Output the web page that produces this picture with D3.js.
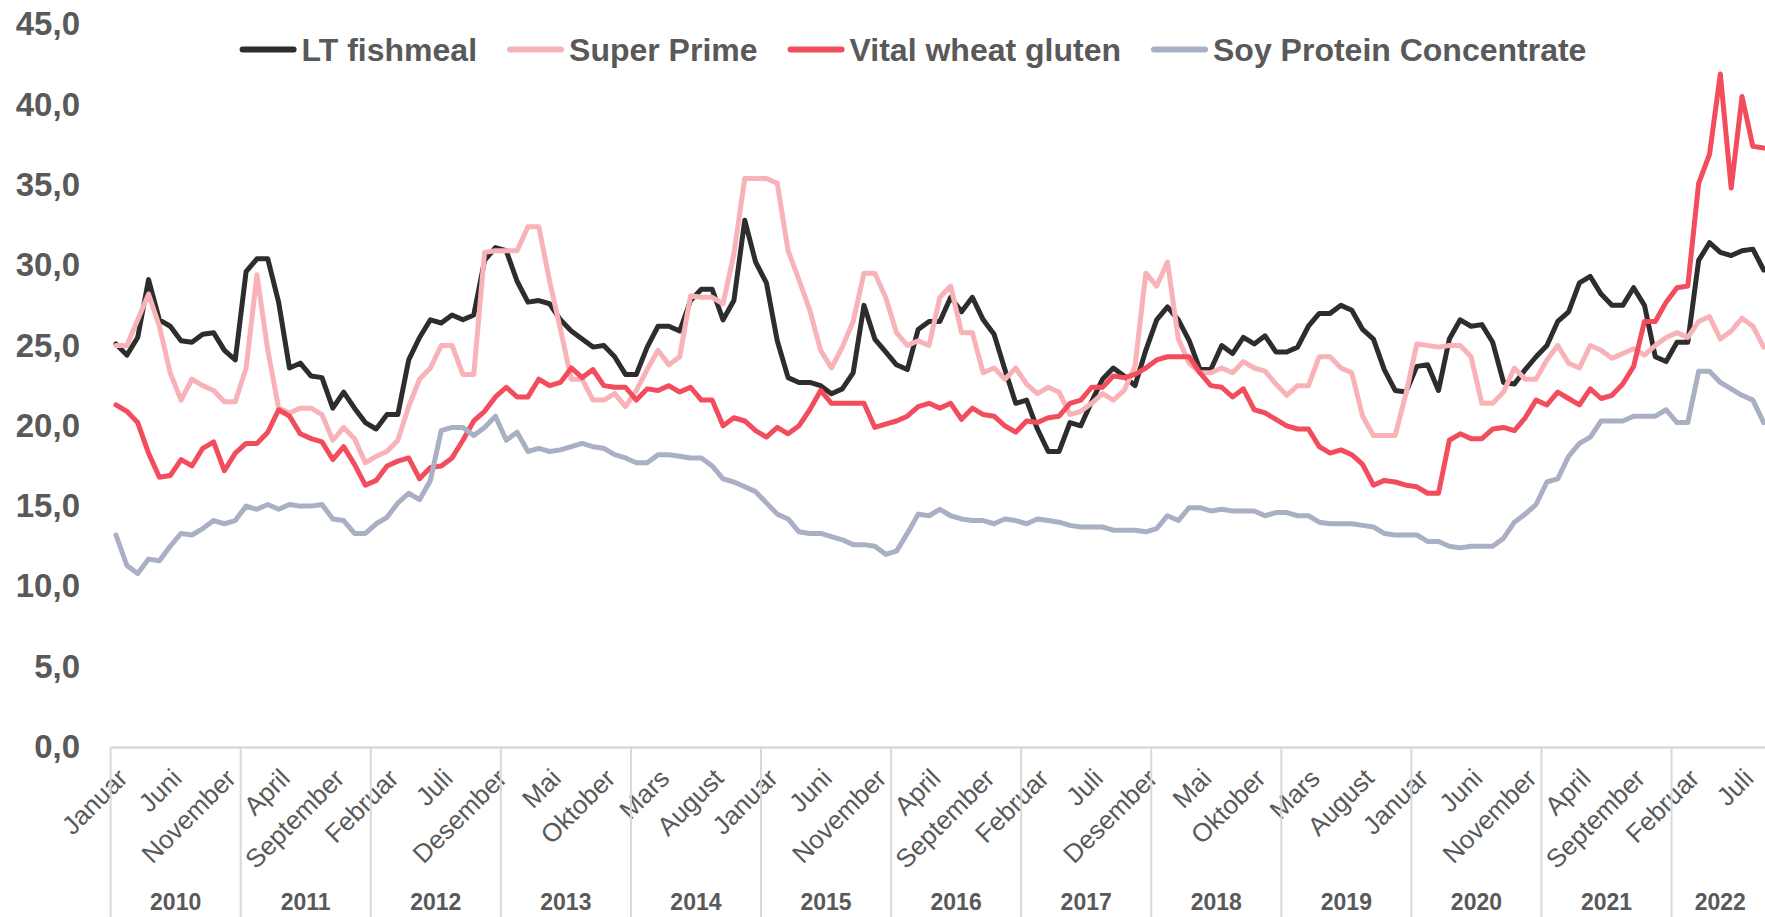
<!DOCTYPE html>
<meta charset="utf-8">
<title>Protein ingredient prices</title>
<script src="https://d3js.org/d3.v7.min.js"></script>
<style>
  body { margin: 0; background: #fff; }
  svg text { font-family: "Liberation Sans", Arial, sans-serif; fill: #595959; }
</style>
<body>
<script>

var w = 1765
var h = 917

// categories
var years = ["2010", "2011", "2012", "2013", "2014", "2015", "2016", "2017", "2018", "2019", "2020", "2021", "2022"];
var monthNames = ["Januar", "Februar", "Mars", "April", "Mai", "Juni", "Juli", "August", "September", "Oktober", "November", "Desember"];

// y ticks
var yTicks = [0, 5, 10, 15, 20, 25, 30, 35, 40, 45];

// series values, one per month from Januar 2010 to September 2022
var fishmeal = [
  25.1, 24.4, 25.5, 29.1, 26.6, 26.2, 25.3, 25.2, 25.7, 25.8,
  24.7, 24.1, 29.6, 30.4, 30.4, 27.7, 23.6, 23.9, 23.1, 23.0,
  21.1, 22.1, 21.1, 20.2, 19.8, 20.7, 20.7, 24.1, 25.5, 26.6,
  26.4, 26.9, 26.6, 26.9, 30.3, 31.1, 30.9, 29.0, 27.7, 27.8,
  27.6, 26.6, 25.9, 25.4, 24.9, 25.0, 24.3, 23.2, 23.2, 24.9,
  26.2, 26.2, 25.9, 27.8, 28.5, 28.5, 26.6, 27.8, 32.8, 30.2,
  28.9, 25.3, 23.0, 22.7, 22.7, 22.5, 22.0, 22.3, 23.3, 27.5,
  25.4, 24.6, 23.8, 23.5, 26.0, 26.5, 26.5, 28.0, 27.1, 28.0,
  26.6, 25.7, 23.5, 21.4, 21.6, 19.8, 18.4, 18.4, 20.2, 20.0,
  21.5, 22.9, 23.6, 23.1, 22.5, 24.7, 26.6, 27.4, 26.6, 25.3,
  23.5, 23.5, 25.0, 24.5, 25.5, 25.1, 25.6, 24.6, 24.6, 24.9,
  26.2, 27.0, 27.0, 27.5, 27.2, 26.0, 25.4, 23.5, 22.2, 22.1,
  23.7, 23.8, 22.2, 25.4, 26.6, 26.2, 26.3, 25.2, 22.7, 22.6,
  23.5, 24.3, 25.0, 26.5, 27.1, 28.9, 29.3, 28.2, 27.5, 27.5,
  28.6, 27.5, 24.3, 24.0, 25.2, 25.2, 30.3, 31.4, 30.8, 30.6,
  30.9, 31.0, 29.7
];
var superPrime = [
  25.0, 25.0, 26.6, 28.2, 26.2, 23.3, 21.6, 22.9, 22.5, 22.2,
  21.5, 21.5, 23.6, 29.4, 24.7, 21.1, 20.8, 21.1, 21.1, 20.7,
  19.1, 19.9, 19.2, 17.7, 18.1, 18.4, 19.1, 21.2, 22.9, 23.6,
  25.0, 25.0, 23.2, 23.2, 30.8, 30.9, 30.9, 30.9, 32.4, 32.4,
  29.0, 26.0, 22.9, 22.9, 21.6, 21.6, 22.0, 21.2, 22.2, 23.5,
  24.7, 23.8, 24.3, 28.1, 28.0, 28.0, 27.6, 30.7, 35.4, 35.4,
  35.4, 35.1, 30.9, 29.1, 27.2, 24.7, 23.6, 24.9, 26.5, 29.5,
  29.5, 28.0, 25.8, 25.0, 25.3, 25.0, 28.0, 28.7, 25.8, 25.8,
  23.3, 23.6, 22.9, 23.6, 22.6, 22.0, 22.4, 22.1, 20.7, 20.9,
  21.4, 22.0, 21.6, 22.2, 23.7, 29.5, 28.7, 30.2, 25.4, 23.9,
  23.3, 23.3, 23.6, 23.3, 24.0, 23.6, 23.4, 22.6, 21.9, 22.5,
  22.5, 24.3, 24.3, 23.6, 23.3, 20.6, 19.4, 19.4, 19.4, 22.0,
  25.1, 25.0, 24.9, 25.0, 25.0, 24.3, 21.4, 21.4, 22.1, 23.6,
  22.9, 22.9, 24.1, 25.0, 23.9, 23.6, 25.0, 24.7, 24.2, 24.5,
  24.8, 24.4, 25.0, 25.5, 25.8, 25.5, 26.5, 26.8, 25.4, 25.9,
  26.7, 26.2, 24.9
];
var wheatGluten = [
  21.3, 20.9, 20.2, 18.3, 16.8, 16.9, 17.9, 17.5, 18.6, 19.0,
  17.2, 18.3, 18.9, 18.9, 19.6, 21.0, 20.6, 19.5, 19.2, 19.0,
  17.9, 18.7, 17.6, 16.3, 16.6, 17.5, 17.8, 18.0, 16.7, 17.4,
  17.5, 18.0, 19.1, 20.3, 20.9, 21.8, 22.4, 21.8, 21.8, 22.9,
  22.5, 22.7, 23.6, 23.0, 23.5, 22.5, 22.4, 22.4, 21.6, 22.3,
  22.2, 22.5, 22.1, 22.4, 21.6, 21.6, 20.0, 20.5, 20.3, 19.7,
  19.3, 19.9, 19.5, 20.0, 21.0, 22.2, 21.4, 21.4, 21.4, 21.4,
  19.9, 20.1, 20.3, 20.6, 21.2, 21.4, 21.1, 21.4, 20.4, 21.1,
  20.7, 20.6, 20.0, 19.6, 20.3, 20.2, 20.5, 20.6, 21.4, 21.6,
  22.4, 22.4, 23.1, 23.0, 23.2, 23.6, 24.1, 24.3, 24.3, 24.3,
  23.3, 22.5, 22.4, 21.8, 22.3, 21.0, 20.8, 20.4, 20.0, 19.8,
  19.8, 18.7, 18.3, 18.5, 18.2, 17.6, 16.3, 16.6, 16.5, 16.3,
  16.2, 15.8, 15.8, 19.1, 19.5, 19.2, 19.2, 19.8, 19.9, 19.7,
  20.5, 21.6, 21.3, 22.1, 21.7, 21.3, 22.3, 21.7, 21.9, 22.6,
  23.7, 26.5, 26.5, 27.7, 28.6, 28.7, 35.1, 36.9, 41.9, 34.8,
  40.5, 37.4, 37.3
];
var soyProtein = [
  13.2, 11.3, 10.8, 11.7, 11.6, 12.5, 13.3, 13.2, 13.6, 14.1,
  13.9, 14.1, 15.0, 14.8, 15.1, 14.8, 15.1, 15.0, 15.0, 15.1,
  14.2, 14.1, 13.3, 13.3, 13.9, 14.3, 15.2, 15.8, 15.4, 16.6,
  19.7, 19.9, 19.9, 19.4, 19.9, 20.6, 19.1, 19.6, 18.4, 18.6,
  18.4, 18.5, 18.7, 18.9, 18.7, 18.6, 18.2, 18.0, 17.7, 17.7,
  18.2, 18.2, 18.1, 18.0, 18.0, 17.5, 16.7, 16.5, 16.2, 15.9,
  15.2, 14.5, 14.2, 13.4, 13.3, 13.3, 13.1, 12.9, 12.6, 12.6,
  12.5, 12.0, 12.2, 13.3, 14.5, 14.4, 14.8, 14.4, 14.2, 14.1,
  14.1, 13.9, 14.2, 14.1, 13.9, 14.2, 14.1, 14.0, 13.8, 13.7,
  13.7, 13.7, 13.5, 13.5, 13.5, 13.4, 13.6, 14.4, 14.1, 14.9,
  14.9, 14.7, 14.8, 14.7, 14.7, 14.7, 14.4, 14.6, 14.6, 14.4,
  14.4, 14.0, 13.9, 13.9, 13.9, 13.8, 13.7, 13.3, 13.2, 13.2,
  13.2, 12.8, 12.8, 12.5, 12.4, 12.5, 12.5, 12.5, 13.0, 14.0,
  14.5, 15.1, 16.5, 16.7, 18.1, 18.9, 19.3, 20.3, 20.3, 20.3,
  20.6, 20.6, 20.6, 21.0, 20.2, 20.2, 23.4, 23.4, 22.7, 22.3,
  21.9, 21.6, 20.2
];

var series = [
  { name: "LT fishmeal", values: fishmeal, color: "#2d2d2d" },
  { name: "Super Prime", values: superPrime, color: "#f8b3b8" },
  { name: "Vital wheat gluten", values: wheatGluten, color: "#f24c5d" },
  { name: "Soy Protein Concentrate", values: soyProtein, color: "#a9b0c3" }
];

var svg = d3.select("body")
  .append("svg")
  .attr("width", w)
  .attr("height", h);

// scales
var x = d3.scaleBand()
  .domain(d3.range(fishmeal.length))
  .range([110.6, 110.6 + fishmeal.length * 10.84])
  .padding(0);

var y = d3.scaleLinear()
  .domain([0, 45])
  .range([747, 24.3]);

var comma = d3.formatLocale({ decimal: ",", thousands: " ", grouping: [3], currency: ["", ""] }).format(".1f");

// y axis labels
var yAxis = svg.append("g")
  .attr("transform", "translate(110,0)")
  .call(d3.axisLeft(y).tickValues(yTicks).tickSize(0).tickPadding(30).tickFormat(comma));
yAxis.select(".domain").remove();
yAxis.selectAll("text")
  .style("font-size", "33px")
  .style("font-weight", "bold");

// x axis with month labels every 5th month
var xAxis = svg.append("g")
  .attr("transform", "translate(0,747)")
  .call(d3.axisBottom(x)
    .tickValues(d3.range(0, fishmeal.length, 5))
    .tickSize(0)
    .tickFormat(function (i) { return monthNames[i % 12]; }));
xAxis.select(".domain")
  .attr("stroke", "#d9d9d9")
  .attr("stroke-width", 2.5);
xAxis.selectAll("text")
  .attr("x", 0)
  .attr("y", 0)
  .attr("dy", 0)
  .attr("text-anchor", "end")
  .attr("transform", "translate(13,33) rotate(-45)")
  .style("font-size", "26px");

// year groups
var yearG = svg.append("g");
years.forEach(function (yr, k) {
  var first = k * 12;
  var last = Math.min(first + 11, fishmeal.length - 1);
  var x0 = x(first);
  var x1 = x(last) + x.bandwidth();
  yearG.append("line")
    .attr("x1", x0).attr("x2", x0)
    .attr("y1", 747).attr("y2", h)
    .attr("stroke", "#d9d9d9")
    .attr("stroke-width", 2);
  yearG.append("text")
    .attr("x", (x0 + x1) / 2)
    .attr("y", 902)
    .attr("dy", "0.35em")
    .attr("text-anchor", "middle")
    .style("font-size", "23px")
    .style("font-weight", "bold")
    .text(yr);
});

// the lines
var line = d3.line()
  .x(function (d, i) { return x(i) + x.bandwidth() / 2; })
  .y(function (d) { return y(d); });

svg.append("g")
  .selectAll("path")
  .data(series)
  .enter()
  .append("path")
    .attr("d", function (s) { return line(s.values); })
    .attr("fill", "none")
    .attr("stroke", function (s) { return s.color; })
    .attr("stroke-width", 5)
    .attr("stroke-linejoin", "round")
    .attr("stroke-linecap", "round");

// legend
var legend = svg.append("g");
var items = legend.selectAll("g")
  .data(series)
  .enter()
  .append("g");
items.append("line")
  .attr("x1", 3).attr("x2", 54)
  .attr("y1", 0).attr("y2", 0)
  .attr("stroke", function (s) { return s.color; })
  .attr("stroke-width", 6)
  .attr("stroke-linecap", "round");
items.append("text")
  .attr("x", 62)
  .attr("dy", "0.35em")
  .style("font-size", "32px")
  .style("font-weight", "bold")
  .text(function (s) { return s.name; });

var offsets = [];
var total = 0;
items.each(function () {
  var tw = d3.select(this).select("text").node().getComputedTextLength();
  offsets.push(total);
  total += 62 + tw + 30;
});
total -= 30;
var startX = 913 - total / 2;
items.attr("transform", function (s, i) { return "translate(" + (startX + offsets[i]) + ",49.5)"; });

</script>
</body>
